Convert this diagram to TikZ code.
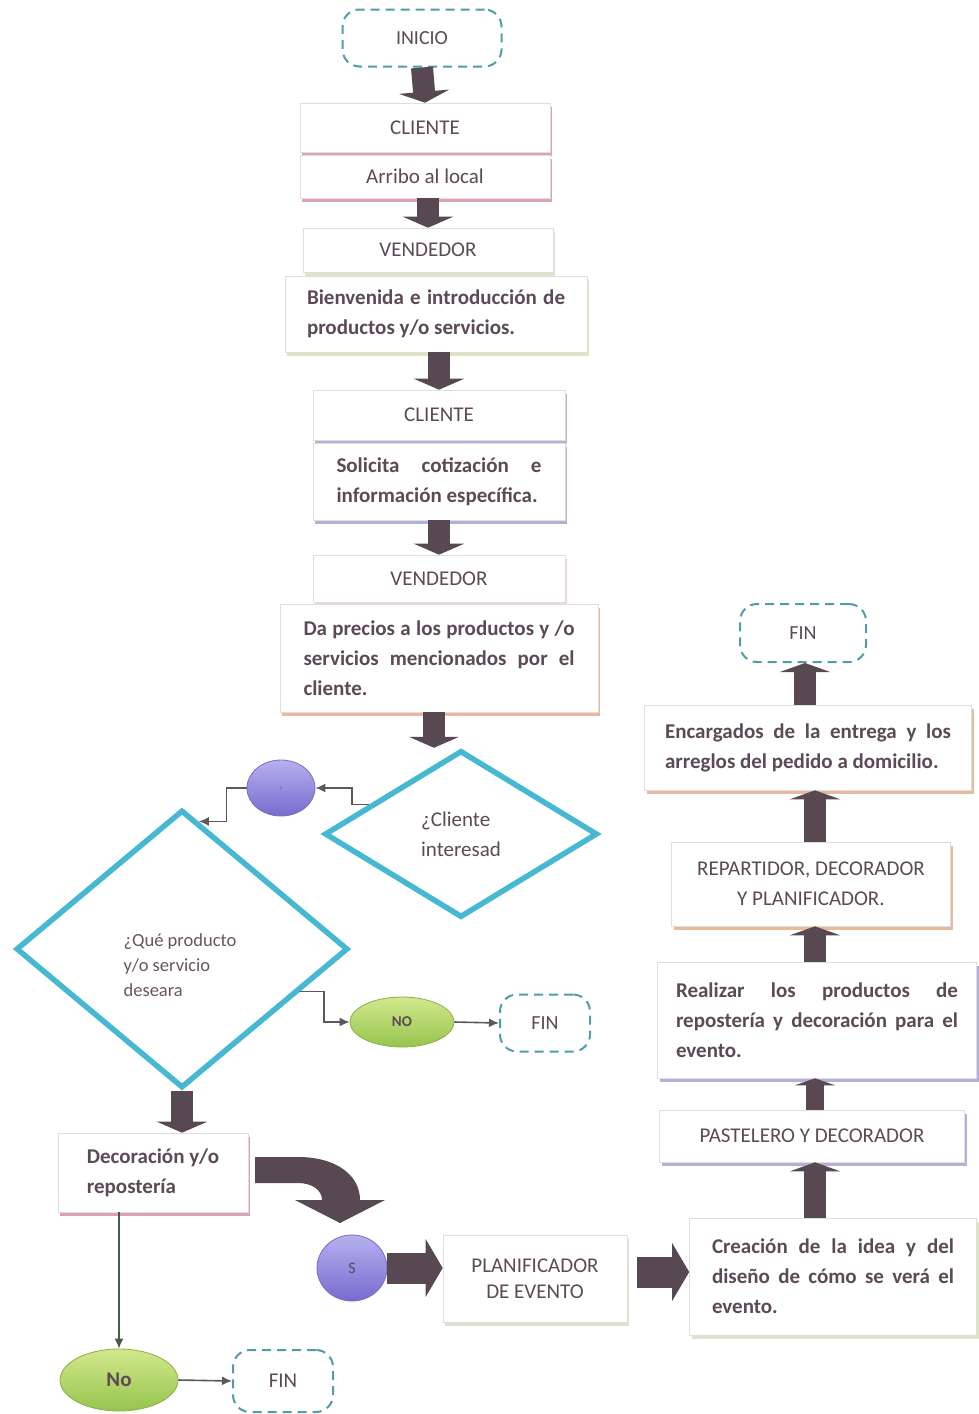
\documentclass[tikz,border=0pt]{standalone}
\usepackage{fontspec}
\setmainfont{Carlito}
\usetikzlibrary{shapes.geometric,arrows.meta,shadows,calc}
\definecolor{txt}{RGB}{92,74,86}
\definecolor{txtb}{RGB}{105,85,95}
\definecolor{teal1}{RGB}{82,155,168}
\definecolor{cyan1}{RGB}{70,184,210}
\definecolor{arr}{RGB}{88,72,82}
\definecolor{line1}{RGB}{90,88,90}
\definecolor{shpink}{RGB}{222,160,184}
\definecolor{shgreen}{RGB}{222,228,200}
\definecolor{shyel}{RGB}{224,228,190}
\definecolor{shlav}{RGB}{180,176,215}
\definecolor{shorl}{RGB}{240,215,200}
\definecolor{shor}{RGB}{232,186,155}
\definecolor{pl1}{RGB}{182,176,240}
\definecolor{pl2}{RGB}{118,108,205}
\definecolor{pl3}{RGB}{120,110,195}
\definecolor{gr1}{RGB}{210,232,140}
\definecolor{gr2}{RGB}{150,196,78}
\definecolor{gr3}{RGB}{135,178,72}
\definecolor{dgreen}{RGB}{70,90,72}
\newcommand{\fhd}{\fontsize{21}{30}\selectfont}
\newcommand{\fbd}{\fontsize{21}{30}\selectfont\bfseries}
\newcommand{\jl}[2]{\makebox[#1][s]{#2}}
\begin{document}
\begin{tikzpicture}[x=1pt,y=-1pt,
  box/.style={draw=black!13, line width=0.6pt, fill=white, inner sep=0pt, text=txt, align=center, font=\fhd},
  body/.style={box, align=left, font=\fbd},
  sh/.style={drop shadow={shadow xshift=2pt, shadow yshift=-4pt, fill=#1, opacity=1}},
  term/.style={draw=teal1, line width=2pt, dash pattern=on 9pt off 6pt, rounded corners=17pt, inner sep=0pt, text=txt, font=\fontsize{20}{22}\selectfont},
  decision/.style={diamond, draw=cyan1, line width=5.5pt, inner sep=0pt, text=txt, align=left, font=\fhd},
  barrow/.style={draw=arr, line width=22pt, -{Triangle[length=11pt,width=50pt]}},
  uarrow/.style={draw=arr, line width=22pt, -{Triangle[length=9pt,width=50pt]}},
  harrow/.style={draw=arr, line width=31pt, -{Triangle[length=17pt,width=57pt]}},
  conn/.style={draw=line1, line width=1.6pt, -{Latex[length=10pt,width=9pt]}},
  purp/.style={ellipse, draw=pl3, line width=0.8pt, top color=pl1, bottom color=pl2, inner sep=0pt, text=txt},
  grn/.style={ellipse, draw=gr3, line width=0.8pt, top color=gr1, bottom color=gr2, inner sep=0pt, text=txt}
]
\fill[white] (0,0) rectangle (979,1414);
\useasboundingbox (0,0) rectangle (979,1414);
\coordinate (xr) at (815,0);
\coordinate (xr2) at (805,0);
\coordinate (yh) at (0,1272);

% terminals
\node[term, minimum width=159pt, minimum height=57pt] (inicio) at (422,38) {INICIO};
\node[term, minimum width=126pt, minimum height=58pt] (fin3) at (803,633) {FIN};
\node[term, minimum width=90pt, minimum height=57pt] (fin1) at (545,1023) {FIN};
\node[term, minimum width=100pt, minimum height=62pt, font=\fontsize{21}{22}\selectfont] (fin2) at (283,1381) {FIN};

% left column boxes
\node[box, sh=shpink, minimum width=250pt, minimum height=49pt] (cli1) at (425,127.5) {CLIENTE};
\node[box, sh=shpink, minimum width=250pt, minimum height=43pt] (arribo) at (425,176.5) {Arribo al local};
\node[box, sh=shgreen, minimum width=250pt, minimum height=44pt] (ven1) at (428,250) {VENDEDOR};
\node[body, sh=shyel, minimum width=302pt, minimum height=76pt] (bien) at (436,314)
  {\jl{258pt}{Bienvenida e introducción de}\\productos y/o servicios.};
\node[box, sh=shlav, minimum width=252pt, minimum height=50pt] (cli2) at (439,415) {CLIENTE};
\node[body, sh=shlav, minimum width=252pt, minimum height=77pt] (sol) at (439,481.5)
  {\jl{205pt}{Solicita cotización e}\\información específica.};
\node[box, sh=shorl, minimum width=252pt, minimum height=47pt] (ven2) at (439,578.5) {VENDEDOR};
\node[body, sh=shor, minimum width=318pt, minimum height=108pt] (pre) at (439,658)
  {\jl{271pt}{Da precios a los productos y /o}\\\jl{271pt}{servicios mencionados por el}\\cliente.};

% decisions
\node[decision, minimum width=273pt, minimum height=167pt] (d1) at (461,834) {¿Cliente\\interesad};
\node[decision, minimum width=332pt, minimum height=278pt,
  label={[font=\fontsize{18.5}{25}\selectfont, text=txtb, align=left, yshift=-16pt, xshift=-2pt]center:{¿Qué producto\\y/o servicio\\deseara}}] (d2) at (182,949) {};

\node[purp, minimum width=68pt, minimum height=56pt, font=\fontsize{4}{4}\selectfont] (c1) at (281,788) {S};
\node[grn, minimum width=104pt, minimum height=50pt, font=\fontsize{15}{15}\selectfont\bfseries] (no1) at (402,1022) {NO};
\node[box, sh=shpink, font=\fbd, align=left, minimum width=190pt, minimum height=79pt] (dec) at (153,1172.5) {Decoración y/o\\repostería};
\node[grn, minimum width=118pt, minimum height=62pt, font=\fbd] (no2) at (119,1380) {No};
\node[purp, minimum width=70pt, minimum height=66pt, font=\fontsize{16}{16}\selectfont] (cs) at (352,1268) {S};
\node[box, sh=shgreen, minimum width=184pt, minimum height=87pt, font=\fontsize{21}{26}\selectfont] (pla) at (535,1278.5) {PLANIFICADOR\\DE EVENTO};

% right column
\node[body, sh=shgreen, minimum width=287pt, minimum height=117pt] (cre) at (833,1276.5)
  {\jl{242pt}{Creación de la idea y del}\\\jl{242pt}{diseño de cómo se verá el}\\evento.};
\node[box, sh=shlav, minimum width=305pt, minimum height=52pt] (pas) at (812,1136) {PASTELERO Y DECORADOR};
\node[body, sh=shlav, minimum width=319pt, minimum height=116pt] (rea) at (817,1020)
  {\jl{282pt}{Realizar los productos de}\\\jl{282pt}{repostería y decoración para el}\\evento.};
\node[box, sh=shor, minimum width=279pt, minimum height=84pt] (rep) at (811,884) {REPARTIDOR, DECORADOR\\Y PLANIFICADOR.};
\node[body, sh=shor, minimum width=327pt, minimum height=85pt] (enc) at (808,747.5)
  {\jl{286pt}{Encargados de la entrega y los}\\arreglos del pedido a domicilio.};

% block arrows (vertical, down)
\draw[barrow] (inicio.south) -- (cli1.north);
\draw[barrow] (arribo.south -| ven1.north) -- (ven1.north);
\draw[barrow] (bien.south -| cli2.north) -- (cli2.north);
\draw[barrow] (sol.south) -- (ven2.north);
\draw[barrow] ([xshift=-5pt]pre.south) -- ([xshift=-5pt]pre.south |- d1.north);
\draw[barrow] (d2.south) -- (d2.south |- dec.north);
% block arrows (up)
\draw[uarrow] (cre.north -| xr) -- (pas.south -| xr);
\draw[uarrow, line width=18pt, -{Triangle[length=7pt,width=40pt]}] (pas.north -| xr) -- (rea.south -| xr);
\draw[uarrow] (rea.north -| xr) -- (rep.south -| xr);
\draw[uarrow] (rep.north -| xr) -- (enc.south -| xr);
\draw[uarrow] (enc.north -| xr2) -- (fin3.south -| xr2);
% block arrows horizontal
\draw[harrow] (cs.east) -- (cs.east -| pla.west);
\draw[harrow] ([xshift=10pt]pla.east |- yh) -- (cre.west |- yh);

% curved block arrow
\fill[arr] (255,1157) -- (298,1157) .. controls (336,1157) and (360,1175) .. (360,1200)
  -- (385,1200) -- (340,1223) -- (295,1200) -- (322,1200)
  .. controls (322,1190) and (312,1183) .. (298,1183) -- (255,1183) -- cycle;

% thin connectors
\coordinate (p1) at ($(d1.west)!0.34!(d1.north)$);
\coordinate (t2) at ($(d2.north)!0.1!(d2.east)$);
\coordinate (p2) at ($(d2.east)!0.3!(d2.south)$);
\draw[conn] (p1) -- ++(-17,0) |- (c1.east);
\draw[conn] (c1.west) -- ++(-20,0) |- (t2);
\draw[conn] (p2) -- ++(24,0) |- (no1.west);
\draw[conn] (no1.east) -- (fin1.west);
\draw[conn, draw=dgreen] (no2.north |- dec.south) -- (no2.north);
\draw[conn] (no2.east) -- (fin2.west);
\end{tikzpicture}
\end{document}
